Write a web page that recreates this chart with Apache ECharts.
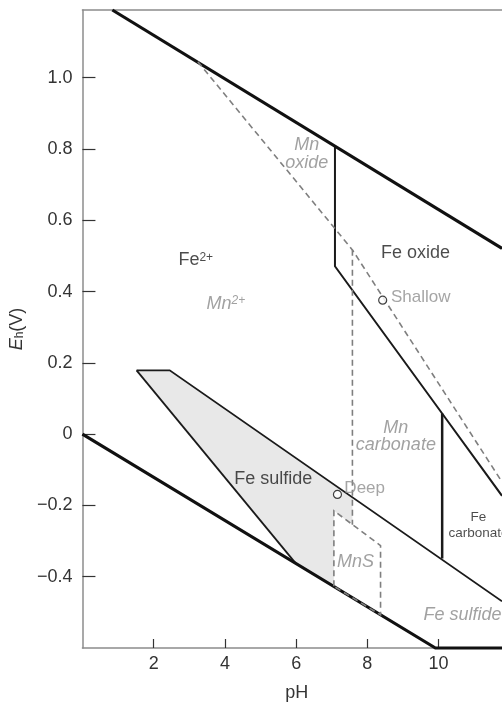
<!DOCTYPE html>
<html>
<head>
<meta charset="utf-8">
<script src="https://cdn.jsdelivr.net/npm/echarts/dist/echarts.min.js"></script>
<style>html,body{margin:0;padding:0;background:#fff;overflow:hidden}#c{width:502px;height:707px}</style>
</head>
<body>
<div id="c"></div>
<script>
// ---- data (pH, Eh in V) ----
const xTicks = [2, 4, 6, 8, 10];
const yTicks = [-0.4, -0.2, 0, 0.2, 0.4, 0.6, 0.8, 1.0];
const waterUpper = [[0.84, 1.19], [11.78, 0.521]];
const waterLower = [[0, 0], [9.91, -0.6], [11.78, -0.6]];
const feOxideBoundary = [[7.09, 0.808], [7.09, 0.471], [10.1, 0.058], [11.78, -0.173]];
const feCarbonateBoundary = [[10.1, 0.058], [10.1, -0.349]];
const feSulfideUpper = [[1.52, 0.179], [2.45, 0.179], [11.78, -0.469]];
const feSulfideLeft = [[1.52, 0.179], [6.0, -0.364]];
const mnOxideBoundary = [[3.24, 1.045], [7.58, 0.517], [11.78, -0.134]];
const mnCarbonateBoundary = [[7.58, 0.517], [7.58, -0.254]];
const mnsBoundary = [[7.06, -0.427], [7.06, -0.215], [8.37, -0.3125], [8.37, -0.507], [7.06, -0.427]];
const feSulfideFill = [[1.52, 0.179], [2.45, 0.179], [7.58, -0.177], [7.58, -0.254], [7.06, -0.215], [7.06, -0.427], [6.0, -0.364]];
const samplePoints = [[8.43, 0.376], [7.16, -0.169]];
// annotations: text, pH, Eh, kind, anchor
const labelTexts = ['Mn\noxide', 'Fe oxide', 'Fe{sup|2+}', 'Mn{sup|2+}', 'Shallow', 'Mn\ncarbonate', 'Fe sulfide', 'Deep', 'MnS', 'Fe\ncarbonate', 'Fe sulfide'];
const labelPH   = [6.30, 9.35, 2.68, 3.47, 8.65, 8.80, 5.36, 7.34, 7.67, 11.12, 9.56];
const labelEh   = [0.786, 0.508, 0.488, 0.366, 0.383, -0.006, -0.125, -0.152, -0.360, -0.255, -0.508];
const labelKind = ['mn', 'fe', 'fe', 'mn', 'pt', 'mn', 'fe', 'pt', 'mn', 'feSmall', 'mn'];
const labelAnchor = ['c', 'c', 'l', 'l', 'l', 'c', 'c', 'l', 'c', 'c', 'l'];

const FONT = 'Liberation Sans';
const kindStyle = {
  fe: {color: '#1e1e1e', fontSize: 18, fontStyle: 'normal', lineHeight: 18},
  feSmall: {color: '#1e1e1e', fontSize: 13.5, fontStyle: 'normal', lineHeight: 15.5},
  mn: {color: '#8a8a8a', fontSize: 18, fontStyle: 'italic', lineHeight: 17.5},
  pt: {color: '#8f8f8f', fontSize: 17, fontStyle: 'normal', lineHeight: 18}
};

const labelData = labelTexts.map((t, i) => {
  const s = kindStyle[labelKind[i]];
  return {
    value: [labelPH[i], labelEh[i]],
    label: {
      show: true,
      formatter: t,
      position: labelAnchor[i] === 'c' ? 'inside' : 'right',
      distance: 0,
      align: labelAnchor[i] === 'c' ? 'center' : 'left',
      color: s.color, fontSize: s.fontSize, fontStyle: s.fontStyle, lineHeight: s.lineHeight,
      fontFamily: FONT,
      rich: {sup: {fontSize: 12, color: s.color, fontStyle: s.fontStyle, fontFamily: FONT, verticalAlign: 'top', lineHeight: 12}}
    }
  };
});

function lineSeries(data, width, color, dashed, z) {
  return {
    type: 'line', data: data, symbol: 'none', clip: false, silent: true, z: z,
    lineStyle: {width: width, color: color, type: dashed ? [6, 4] : 'solid', cap: 'butt', join: 'miter'}
  };
}

const chart = echarts.init(document.getElementById('c'), null, {renderer: 'canvas'});
chart.setOption({
  animation: false,
  grid: {left: 81, right: 0, top: 10, bottom: 53, containLabel: false},
  xAxis: [{
    type: 'value', min: 0, max: 11.78, interval: 2,
    name: 'pH', nameLocation: 'middle', nameGap: 36,
    nameTextStyle: {fontFamily: FONT, fontSize: 18, color: '#333', padding: [0, 0, 0, 9]},
    axisLine: {onZero: false, lineStyle: {color: '#8c8c8c', width: 1.5}},
    axisTick: {inside: true, length: 9, customValues: xTicks, lineStyle: {color: '#333', width: 1.2}},
    axisLabel: {fontFamily: FONT, fontSize: 18, color: '#333', margin: 7, customValues: xTicks,
      formatter: v => String(v)},
    splitLine: {show: false}
  }, {
    type: 'value', position: 'top', min: 0, max: 11.78,
    axisLine: {show: true, onZero: false, lineStyle: {color: '#8c8c8c', width: 1.5}},
    axisTick: {show: false}, axisLabel: {show: false}, splitLine: {show: false}
  }],
  yAxis: {
    type: 'value', min: -0.6, max: 1.19, interval: 0.2,
    name: '{i|E}{s|h}(V)', nameLocation: 'middle', nameGap: 43,
    nameTextStyle: {fontFamily: FONT, fontSize: 18, color: '#333',
      rich: {i: {fontStyle: 'italic', fontSize: 18, fontFamily: FONT, color: '#333'},
             s: {fontSize: 12, fontFamily: FONT, color: '#333', verticalAlign: 'bottom'}}},
    axisLine: {show: true, onZero: false, lineStyle: {color: '#8c8c8c', width: 1.5}},
    axisTick: {inside: true, length: 13, customValues: yTicks, lineStyle: {color: '#333', width: 1.2}},
    axisLabel: {fontFamily: FONT, fontSize: 18, color: '#333', margin: 10, customValues: yTicks,
      formatter: v => {
        const r = Math.round(v * 10) / 10;
        if (r === 0) return '0';
        return (r < 0 ? '\u2212' : '') + Math.abs(r).toFixed(1);
      }},
    splitLine: {show: false}
  },
  series: [
    {
      type: 'custom', silent: true, z: 1, clip: false,
      data: [0],
      renderItem: (params, api) => ({
        type: 'polygon',
        shape: {points: feSulfideFill.map(p => api.coord(p))},
        style: {fill: '#e8e8e8', stroke: 'none'}
      })
    },
    lineSeries(waterUpper, 3.2, '#111', false, 5),
    lineSeries(waterLower, 3.2, '#111', false, 5),
    lineSeries(feOxideBoundary, 2, '#1a1a1a', false, 4),
    lineSeries(feCarbonateBoundary, 2.5, '#1a1a1a', false, 4),
    lineSeries(feSulfideUpper, 1.8, '#1a1a1a', false, 4),
    lineSeries(feSulfideLeft, 1.8, '#1a1a1a', false, 4),
    lineSeries(mnOxideBoundary, 1.6, '#7f7f7f', true, 6),
    lineSeries(mnCarbonateBoundary, 1.6, '#7f7f7f', true, 6),
    lineSeries(mnsBoundary, 1.6, '#7f7f7f', true, 6),
    {
      type: 'scatter', data: samplePoints, symbol: 'circle', symbolSize: 8, silent: true, z: 8,
      itemStyle: {color: '#fff', borderColor: '#111', borderWidth: 1.2}
    },
    {
      type: 'scatter', data: labelData, symbolSize: 1, silent: true, z: 9,
      itemStyle: {color: 'rgba(0,0,0,0)'}
    }
  ]
});
</script>
</body>
</html>
